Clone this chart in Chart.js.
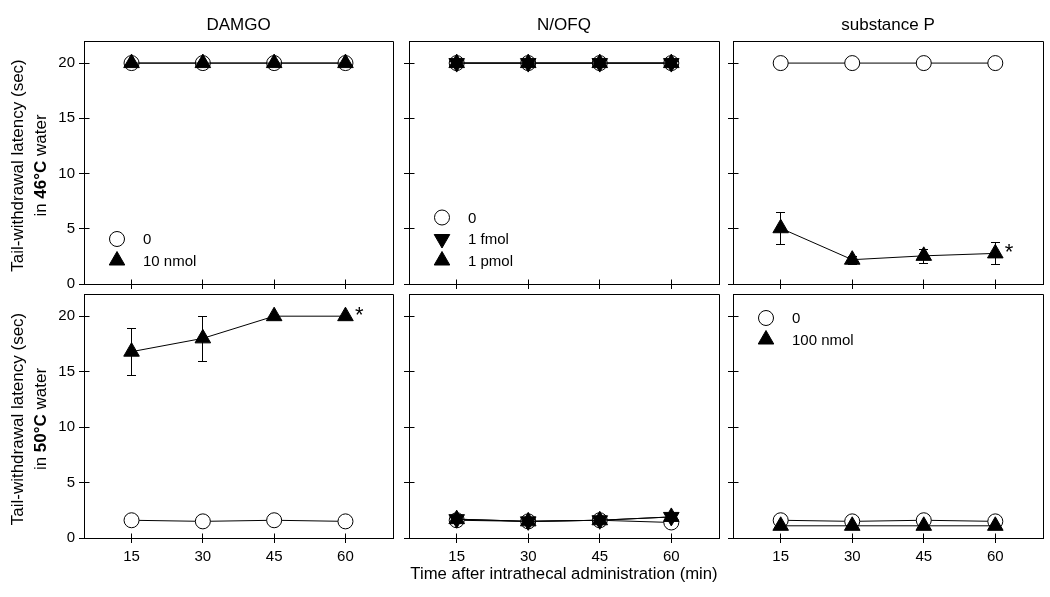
<!DOCTYPE html>
<html>
<head>
<meta charset="utf-8">
<script src="https://cdn.jsdelivr.net/npm/chart.js@4.4.1/dist/chart.umd.min.js"></script>
<style>
html,body{margin:0;padding:0;background:#fff;width:1050px;height:597px;overflow:hidden;position:relative}
canvas{position:absolute;display:block}
</style>
</head>
<body>
<script>
// ---------------- DATA ----------------
const timesMin = [15, 30, 45, 60];
const xTickLabels = ['15', '30', '45', '60'];
const yTickValues = [0, 5, 10, 15, 20];
const xMin = 5, xMax = 70, yMin = 0, yMax = 22;

const drugTitles = ['DAMGO', 'N/OFQ', 'substance P'];
const xAxisTitle = 'Time after intrathecal administration (min)';
const yTitleLine1 = 'Tail-withdrawal latency (sec)';
const yTitleLine2Top = ['in ', '46°C', ' water'];
const yTitleLine2Bottom = ['in ', '50°C', ' water'];

// DAMGO
const damgoLabels = ['0', '10 nmol'];
const damgo46Vehicle = [20, 20, 20, 20];
const damgo46Dose = [20, 20, 20, 20];
const damgo50Vehicle = [1.6, 1.5, 1.6, 1.5];
const damgo50Dose = [16.8, 18.0, 20, 20];
const damgo50DoseSem = [2.1, 2.0, 0, 0];
const damgo50DoseSig = [false, false, false, true];

// N/OFQ
const nofqLabels = ['0', '1 fmol', '1 pmol'];
const nofq46Vehicle = [20, 20, 20, 20];
const nofq46Fmol = [20, 20, 20, 20];
const nofq46Pmol = [20, 20, 20, 20];
const nofq50Vehicle = [1.6, 1.5, 1.6, 1.4];
const nofq50Fmol = [1.7, 1.5, 1.6, 1.9];
const nofq50Pmol = [1.7, 1.5, 1.6, 1.9];

// substance P
const spLabels = ['0', '100 nmol'];
const sp46Vehicle = [20, 20, 20, 20];
const sp46Dose = [5.05, 2.2, 2.55, 2.77];
const sp46DoseSem = [1.43, 0.35, 0.65, 1.0];
const sp46DoseSig = [false, false, false, true];
const sp50Vehicle = [1.6, 1.5, 1.6, 1.5];
const sp50Dose = [1.1, 1.1, 1.1, 1.1];

// ---------------- STYLE ----------------
const FONT = "'Liberation Sans', Arial, Helvetica, sans-serif";
Chart.defaults.font.family = FONT;
Chart.defaults.color = '#000';

const markerStyles = {
  vehicle: {pointStyle: 'circle', rotation: 0, radius: 7.5, fill: '#ffffff', order: 3},
  down: {pointStyle: 'triangle', rotation: 180, radius: 9, fill: '#000000', order: 2},
  up: {pointStyle: 'triangle', rotation: 0, radius: 9, fill: '#000000', order: 1}
};

const colBox = [{left: 84, right: 393}, {left: 409, right: 719}, {left: 733, right: 1043}];
const rowBox = [{top: 41, bottom: 284}, {top: 294, bottom: 538}];

const panels = [
  {row: 0, col: 0, title: drugTitles[0], legend: 'bottom', series: [
    {label: damgoLabels[0], data: damgo46Vehicle, marker: 'vehicle'},
    {label: damgoLabels[1], data: damgo46Dose, marker: 'up'}]},
  {row: 0, col: 1, title: drugTitles[1], legend: 'bottom', series: [
    {label: nofqLabels[0], data: nofq46Vehicle, marker: 'vehicle'},
    {label: nofqLabels[1], data: nofq46Fmol, marker: 'down'},
    {label: nofqLabels[2], data: nofq46Pmol, marker: 'up'}]},
  {row: 0, col: 2, title: drugTitles[2], legend: null, series: [
    {label: spLabels[0], data: sp46Vehicle, marker: 'vehicle'},
    {label: spLabels[1], data: sp46Dose, sem: sp46DoseSem, sig: sp46DoseSig, marker: 'up'}]},
  {row: 1, col: 0, legend: null, series: [
    {label: damgoLabels[0], data: damgo50Vehicle, marker: 'vehicle'},
    {label: damgoLabels[1], data: damgo50Dose, sem: damgo50DoseSem, sig: damgo50DoseSig, marker: 'up'}]},
  {row: 1, col: 1, legend: null, xTitle: true, series: [
    {label: nofqLabels[0], data: nofq50Vehicle, marker: 'vehicle'},
    {label: nofqLabels[1], data: nofq50Fmol, marker: 'down'},
    {label: nofqLabels[2], data: nofq50Pmol, marker: 'up'}]},
  {row: 1, col: 2, legend: 'top', series: [
    {label: spLabels[0], data: sp50Vehicle, marker: 'vehicle'},
    {label: spLabels[1], data: sp50Dose, marker: 'up'}]}
];

// ---------------- HELPERS ----------------
function alignPx(p) { return Math.round(p - 0.5) + 0.5; }

function drawMarker(ctx, m, x, y) {
  ctx.save();
  ctx.fillStyle = m.fill;
  ctx.strokeStyle = '#000';
  ctx.lineWidth = 1;
  if (Chart.helpers && Chart.helpers.drawPoint) {
    Chart.helpers.drawPoint(ctx, {pointStyle: m.pointStyle, rotation: m.rotation, radius: m.radius, borderWidth: 1}, x, y);
  } else {
    ctx.beginPath();
    if (m.pointStyle === 'circle') {
      ctx.arc(x, y, m.radius, 0, Math.PI * 2);
    } else {
      let rad = m.rotation * Math.PI / 180;
      for (let k = 0; k < 3; k++) {
        const px = x + Math.sin(rad) * m.radius, py = y - Math.cos(rad) * m.radius;
        if (k === 0) ctx.moveTo(px, py); else ctx.lineTo(px, py);
        rad += 2 * Math.PI / 3;
      }
      ctx.closePath();
    }
    ctx.fill();
    ctx.stroke();
  }
  ctx.restore();
}

// frame (top/right sides) + inward half of the crossing tick marks
const framePlugin = {
  id: 'frameTicks',
  beforeDatasetsDraw(chart) {
    const {ctx, chartArea: a, scales} = chart;
    ctx.save();
    ctx.strokeStyle = '#000';
    ctx.lineWidth = 1;
    ctx.beginPath();
    const l = alignPx(a.left), r = alignPx(a.right), t = alignPx(a.top), b = alignPx(a.bottom);
    ctx.moveTo(l, t); ctx.lineTo(r, t); ctx.lineTo(r, b);
    // inner ticks on x axis
    scales.x.ticks.forEach(tk => {
      const px = alignPx(scales.x.getPixelForValue(tk.value));
      ctx.moveTo(px, b); ctx.lineTo(px, b - 5);
    });
    scales.y.ticks.forEach(tk => {
      const py = alignPx(scales.y.getPixelForValue(tk.value));
      ctx.moveTo(l, py); ctx.lineTo(l + 5, py);
    });
    ctx.stroke();
    ctx.restore();
  }
};

const errorBarPlugin = {
  id: 'errorBars',
  beforeDatasetsDraw(chart) {
    const {ctx, scales: {x, y}} = chart;
    ctx.save();
    ctx.strokeStyle = '#000';
    ctx.lineWidth = 1;
    chart.data.datasets.forEach(ds => {
      if (!ds.sem) return;
      ds.data.forEach((pt, i) => {
        const e = ds.sem[i];
        if (!e) return;
        const px = alignPx(x.getPixelForValue(pt.x));
        const yt = Math.round(y.getPixelForValue(pt.y + e)) + 0.5;
        const yb = Math.round(y.getPixelForValue(pt.y - e)) + 0.5;
        ctx.beginPath();
        ctx.moveTo(px, yt); ctx.lineTo(px, yb);
        ctx.moveTo(px - 4.5, yt); ctx.lineTo(px + 4.5, yt);
        ctx.moveTo(px - 4.5, yb); ctx.lineTo(px + 4.5, yb);
        ctx.stroke();
      });
    });
    ctx.restore();
  }
};

const sigPlugin = {
  id: 'sigMarks',
  afterDatasetsDraw(chart) {
    const {ctx, scales: {x, y}} = chart;
    ctx.save();
    ctx.fillStyle = '#000';
    ctx.font = '22px ' + FONT;
    ctx.textAlign = 'left';
    ctx.textBaseline = 'alphabetic';
    chart.data.datasets.forEach(ds => {
      if (!ds.sig) return;
      ds.data.forEach((pt, i) => {
        if (!ds.sig[i]) return;
        ctx.fillText('*', x.getPixelForValue(pt.x) + 9.5, y.getPixelForValue(pt.y) + 6);
      });
    });
    ctx.restore();
  }
};

const legendPlugin = {
  id: 'panelLegend',
  afterDraw(chart, args, opts) {
    if (!opts || !opts.anchor) return;
    const {ctx, chartArea: a} = chart;
    const items = chart.data.datasets;
    const step = 21.5;
    let y0 = opts.anchor === 'top' ? a.top + 24 : a.bottom - 23.5 - step * (items.length - 1);
    ctx.save();
    ctx.font = '15px ' + FONT;
    ctx.fillStyle = '#000';
    ctx.textAlign = 'left';
    ctx.textBaseline = 'middle';
    items.forEach((ds, i) => {
      const yy = y0 + i * step;
      drawMarker(ctx, markerStyles[ds.markerKey], a.left + 33, yy);
      ctx.fillStyle = '#000';
      ctx.fillText(ds.label, a.left + 59, yy + 1);
    });
    ctx.restore();
  }
};

const yTitlePlugin = {
  id: 'yTitle',
  afterDraw(chart, args, opts) {
    if (!opts || !opts.parts) return;
    const {ctx, chartArea: a} = chart;
    const yc = (a.top + a.bottom) / 2 + 3;
    const size = 17;
    const normal = size + 'px ' + FONT, bold = 'bold ' + size + 'px ' + FONT;
    ctx.save();
    ctx.fillStyle = '#000';
    ctx.textBaseline = 'middle';
    // line 1
    ctx.save();
    ctx.translate(18.5, yc);
    ctx.rotate(-Math.PI / 2);
    ctx.font = normal;
    ctx.textAlign = 'center';
    ctx.fillText(opts.line1, 0, 0);
    ctx.restore();
    // line 2 (mixed weight)
    ctx.save();
    ctx.translate(41.5, yc);
    ctx.rotate(-Math.PI / 2);
    ctx.textAlign = 'left';
    const fonts = opts.parts.map((p, i) => i === 1 ? bold : normal);
    let total = 0;
    const widths = opts.parts.map((p, i) => { ctx.font = fonts[i]; const w = ctx.measureText(p).width; total += w; return w; });
    let xx = -total / 2;
    opts.parts.forEach((p, i) => { ctx.font = fonts[i]; ctx.fillText(p, xx, 0); xx += widths[i]; });
    ctx.restore();
    ctx.restore();
  }
};

// ---------------- BUILD CHARTS ----------------
panels.forEach(p => {
  const cb = colBox[p.col], rb = rowBox[p.row];
  const L = p.col === 0 ? 84 : 10;
  const R = 1050 - cb.right > 6 ? 6 : 1050 - cb.right;
  const T = p.row === 0 ? 41 : 5;
  const B = p.row === 0 ? 14 : 597 - rb.bottom;
  const W = L + (cb.right - cb.left) + R;
  const H = T + (rb.bottom - rb.top) + B;
  const canvas = document.createElement('canvas');
  canvas.width = W; canvas.height = H;
  canvas.style.left = (cb.left - L) + 'px';
  canvas.style.top = (rb.top - T) + 'px';
  canvas.style.width = W + 'px'; canvas.style.height = H + 'px';
  document.body.appendChild(canvas);

  const datasets = p.series.map(s => {
    const m = markerStyles[s.marker];
    return {
      label: s.label,
      markerKey: s.marker,
      data: timesMin.map((t, i) => ({x: t, y: s.data[i]})),
      sem: s.sem || null,
      sig: s.sig || null,
      borderColor: '#000', borderWidth: 1, tension: 0, fill: false,
      pointStyle: m.pointStyle, pointRotation: m.rotation,
      pointRadius: m.radius, pointHoverRadius: m.radius,
      pointBackgroundColor: m.fill, pointBorderColor: '#000', pointBorderWidth: 1,
      order: m.order, clip: false
    };
  });

  const plugOpts = {
    legend: {display: false},
    tooltip: {enabled: false},
    title: {
      display: p.row === 0, text: p.title || '', fullSize: false, color: '#000',
      font: {size: 17, weight: 'normal'}, padding: {top: 15.3, bottom: 5.3}
    },
    panelLegend: {anchor: p.legend},
    yTitle: p.col === 0 ? {line1: yTitleLine1, parts: p.row === 0 ? yTitleLine2Top : yTitleLine2Bottom} : {parts: null}
  };

  new Chart(canvas, {
    type: 'line',
    data: {datasets},
    options: {
      responsive: false, animation: false, devicePixelRatio: 1, events: [],
      layout: {autoPadding: false, padding: {top: p.row === 0 ? 0 : T, right: R, left: 0, bottom: 0}},
      scales: {
        x: {
          type: 'linear', min: xMin, max: xMax, offset: false,
          afterBuildTicks: s => { s.ticks = timesMin.map(v => ({value: v})); },
          afterFit: s => { s.height = B; s.paddingLeft = 0; s.paddingRight = 0; },
          ticks: {display: p.row === 1, padding: 5, color: '#000', font: {size: 15},
                  autoSkip: false, maxRotation: 0, callback: (v, i) => xTickLabels[i]},
          grid: {drawOnChartArea: false, drawTicks: true, tickLength: 5, color: '#000', lineWidth: 1},
          border: {display: true, color: '#000', width: 1},
          title: {display: !!p.xTitle, text: xAxisTitle, color: '#000', font: {size: 16.7},
                  padding: {top: 0, bottom: 12.5}}
        },
        y: {
          type: 'linear', min: yMin, max: yMax,
          afterBuildTicks: s => { s.ticks = yTickValues.map(v => ({value: v})); },
          afterFit: s => { s.width = L; s.paddingTop = 0; s.paddingBottom = 0; },
          ticks: {display: p.col === 0, padding: 4, color: '#000', font: {size: 15}},
          grid: {drawOnChartArea: false, drawTicks: true, tickLength: 5, color: '#000', lineWidth: 1},
          border: {display: true, color: '#000', width: 1}
        }
      },
      plugins: plugOpts
    },
    plugins: [framePlugin, errorBarPlugin, sigPlugin, legendPlugin, yTitlePlugin]
  });
});
</script>
</body>
</html>
